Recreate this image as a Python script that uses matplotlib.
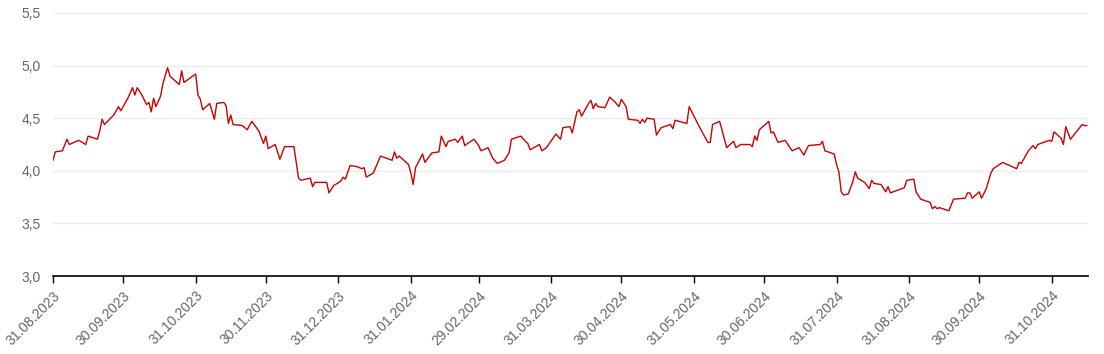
import matplotlib
matplotlib.use("Agg")
import matplotlib.pyplot as plt
import matplotlib.dates as mdates
import matplotlib.ticker as mticker
import pandas as pd

plt.rcParams['font.family'] = ['Liberation Sans', 'DejaVu Sans']

# values (date, value)
dates = [
    "2023-08-31", "2023-09-01", "2023-09-04", "2023-09-06", "2023-09-07", "2023-09-11",
    "2023-09-14", "2023-09-15", "2023-09-19", "2023-09-20", "2023-09-21", "2023-09-22",
    "2023-09-26", "2023-09-28", "2023-09-29", "2023-10-02", "2023-10-04", "2023-10-05",
    "2023-10-06", "2023-10-08", "2023-10-10", "2023-10-11", "2023-10-12", "2023-10-13",
    "2023-10-14", "2023-10-16", "2023-10-17", "2023-10-19", "2023-10-20", "2023-10-24",
    "2023-10-25", "2023-10-26", "2023-10-31", "2023-11-01", "2023-11-02", "2023-11-03",
    "2023-11-06", "2023-11-08", "2023-11-09", "2023-11-12", "2023-11-13", "2023-11-14",
    "2023-11-15", "2023-11-16", "2023-11-20", "2023-11-22", "2023-11-24", "2023-11-27",
    "2023-11-29", "2023-11-30", "2023-12-01", "2023-12-04", "2023-12-06", "2023-12-08",
    "2023-12-12", "2023-12-14", "2023-12-15", "2023-12-19", "2023-12-20", "2023-12-21",
    "2023-12-26", "2023-12-27", "2023-12-29", "2024-01-01", "2024-01-02", "2024-01-03",
    "2024-01-05", "2024-01-08", "2024-01-10", "2024-01-11", "2024-01-12", "2024-01-15",
    "2024-01-18", "2024-01-23", "2024-01-24", "2024-01-25", "2024-01-26", "2024-01-30",
    "2024-01-31", "2024-02-01", "2024-02-02", "2024-02-05", "2024-02-06", "2024-02-09",
    "2024-02-12", "2024-02-13", "2024-02-15", "2024-02-16", "2024-02-19", "2024-02-20",
    "2024-02-22", "2024-02-23", "2024-02-27", "2024-02-29", "2024-03-01", "2024-03-04",
    "2024-03-06", "2024-03-08", "2024-03-11", "2024-03-13", "2024-03-14", "2024-03-18",
    "2024-03-20", "2024-03-21", "2024-03-22", "2024-03-26", "2024-03-27", "2024-03-29",
    "2024-04-02", "2024-04-04", "2024-04-05", "2024-04-08", "2024-04-09", "2024-04-11",
    "2024-04-12", "2024-04-13", "2024-04-16", "2024-04-17", "2024-04-18", "2024-04-19",
    "2024-04-20", "2024-04-23", "2024-04-25", "2024-04-27", "2024-04-29", "2024-04-30",
    "2024-05-02", "2024-05-03", "2024-05-07", "2024-05-08", "2024-05-09", "2024-05-10",
    "2024-05-11", "2024-05-14", "2024-05-15", "2024-05-17", "2024-05-21", "2024-05-22",
    "2024-05-23", "2024-05-28", "2024-05-29", "2024-05-31", "2024-06-03", "2024-06-06",
    "2024-06-07", "2024-06-08", "2024-06-11", "2024-06-12", "2024-06-14", "2024-06-17",
    "2024-06-18", "2024-06-20", "2024-06-24", "2024-06-25", "2024-06-26", "2024-06-27",
    "2024-06-28", "2024-07-02", "2024-07-03", "2024-07-04", "2024-07-06", "2024-07-09",
    "2024-07-12", "2024-07-15", "2024-07-17", "2024-07-19", "2024-07-24", "2024-07-25",
    "2024-07-26", "2024-07-30", "2024-07-31", "2024-08-01", "2024-08-02", "2024-08-03",
    "2024-08-05", "2024-08-07", "2024-08-08", "2024-08-09", "2024-08-12", "2024-08-14",
    "2024-08-15", "2024-08-16", "2024-08-19", "2024-08-21", "2024-08-22", "2024-08-23",
    "2024-08-29", "2024-08-30", "2024-09-02", "2024-09-03", "2024-09-05", "2024-09-09",
    "2024-09-10", "2024-09-11", "2024-09-12", "2024-09-13", "2024-09-17", "2024-09-19",
    "2024-09-24", "2024-09-25", "2024-09-26", "2024-09-27", "2024-09-30", "2024-10-01",
    "2024-10-03", "2024-10-05", "2024-10-06", "2024-10-10", "2024-10-16", "2024-10-17",
    "2024-10-18", "2024-10-21", "2024-10-23", "2024-10-24", "2024-10-25", "2024-10-30",
    "2024-10-31", "2024-11-01", "2024-11-04", "2024-11-05", "2024-11-06", "2024-11-08",
    "2024-11-13", "2024-11-14", "2024-11-15",
]
values = [
    4.10, 4.18, 4.19, 4.30, 4.25, 4.29,
    4.25, 4.33, 4.30, 4.38, 4.49, 4.44,
    4.53, 4.61, 4.57, 4.69, 4.79, 4.72,
    4.79, 4.72, 4.63, 4.65, 4.56, 4.69,
    4.61, 4.71, 4.83, 4.98, 4.90, 4.82,
    4.95, 4.84, 4.92, 4.72, 4.68, 4.58,
    4.64, 4.49, 4.64, 4.65, 4.62, 4.45,
    4.53, 4.44, 4.43, 4.39, 4.47, 4.38,
    4.26, 4.33, 4.21, 4.25, 4.11, 4.23,
    4.23, 3.93, 3.91, 3.93, 3.85, 3.89,
    3.89, 3.79, 3.86, 3.90, 3.94, 3.92,
    4.05, 4.04, 4.02, 4.03, 3.94, 3.98,
    4.14, 4.10, 4.18, 4.12, 4.14, 4.06,
    3.98, 3.87, 4.03, 4.16, 4.08, 4.17,
    4.18, 4.33, 4.23, 4.28, 4.30, 4.27,
    4.33, 4.24, 4.30, 4.24, 4.19, 4.22,
    4.12, 4.07, 4.10, 4.17, 4.30, 4.33,
    4.28, 4.26, 4.20, 4.25, 4.19, 4.22,
    4.35, 4.30, 4.41, 4.42, 4.36, 4.56,
    4.58, 4.52, 4.64, 4.67, 4.59, 4.64,
    4.61, 4.60, 4.70, 4.66, 4.61, 4.68,
    4.61, 4.49, 4.48, 4.45, 4.49, 4.46,
    4.50, 4.49, 4.34, 4.41, 4.44, 4.40,
    4.48, 4.45, 4.61, 4.52, 4.39, 4.27,
    4.27, 4.44, 4.47, 4.39, 4.22, 4.28,
    4.22, 4.25, 4.25, 4.23, 4.33, 4.29,
    4.39, 4.47, 4.36, 4.37, 4.27, 4.29,
    4.19, 4.22, 4.15, 4.24, 4.25, 4.28,
    4.19, 4.16, 4.06, 3.99, 3.80, 3.77,
    3.78, 3.90, 3.99, 3.93, 3.89, 3.83,
    3.91, 3.88, 3.87, 3.80, 3.85, 3.79,
    3.84, 3.91, 3.92, 3.80, 3.73, 3.70,
    3.64, 3.66, 3.64, 3.65, 3.62, 3.73,
    3.74, 3.79, 3.79, 3.74, 3.80, 3.74,
    3.83, 3.98, 4.02, 4.08, 4.02, 4.08,
    4.07, 4.19, 4.24, 4.21, 4.25, 4.29,
    4.28, 4.37, 4.31, 4.25, 4.42, 4.30,
    4.44, 4.43, 4.43,
]

tick_dates = [
    "2023-08-31", "2023-09-30", "2023-10-31", "2023-11-30", "2023-12-31",
    "2024-01-31", "2024-02-29", "2024-03-31", "2024-04-30", "2024-05-31",
    "2024-06-30", "2024-07-31", "2024-08-31", "2024-09-30", "2024-10-31",
]
y_ticks = [3.0, 3.5, 4.0, 4.5, 5.0, 5.5]

x = pd.to_datetime(dates)
ticks = pd.to_datetime(tick_dates)

fig = plt.figure(figsize=(11.04, 3.54), dpi=100)
ax = fig.add_axes([0.048, 0.2203, 0.9375, 0.743])

ax.plot(x, values, color='#cc0000', linewidth=1.0)

ax.set_xlim(x[0], x[-1] + pd.Timedelta(hours=12))
ax.set_ylim(3.0, 5.5)

ax.set_yticks(y_ticks)
ax.yaxis.set_major_formatter(mticker.FuncFormatter(lambda v, p: f"{v:.1f}".replace('.', ',')))
ax.grid(axis='y', color='#ebebeb', linewidth=1)
ax.set_axisbelow(True)

ax.set_xticks(ticks)
ax.xaxis.set_major_formatter(mdates.DateFormatter('%d.%m.%Y'))
plt.setp(ax.get_xticklabels(), rotation=45, ha='right', rotation_mode='anchor')

ax.tick_params(axis='y', length=0, pad=9, labelsize=10, labelcolor='#666666')
ax.tick_params(axis='x', length=5, width=1, color='black', pad=4, labelsize=10, labelcolor='#666666')

for side in ['top', 'right', 'left']:
    ax.spines[side].set_visible(False)
ax.spines['bottom'].set_color('black')
ax.spines['bottom'].set_linewidth(1.2)

fig.savefig('out.png', dpi=100)
